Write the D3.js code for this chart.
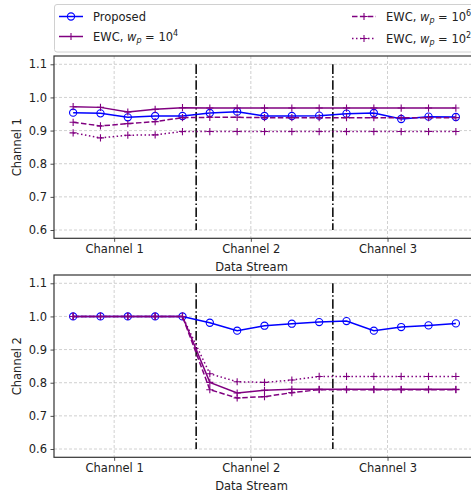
<!DOCTYPE html>
<html>
<head>
<meta charset="utf-8">
<script src="https://cdn.jsdelivr.net/npm/d3@7"></script>
<style>
  body { margin: 0; background: #fff; }
  text { font-family: "DejaVu Sans", sans-serif; fill: #222; }
</style>
</head>
<body>
<div id="chart"></div>
<script>
// data
var steps = d3.range(15);
var channelLabels = ["Channel 1", "Channel 2", "Channel 3"];
var channelTicks = [1.5, 6.5, 11.5];
var boundaries = [4.5, 9.5];
var yTicks = [0.6, 0.7, 0.8, 0.9, 1.0, 1.1];

var ch1Proposed = [0.954, 0.952, 0.940, 0.944, 0.944, 0.953, 0.957, 0.944, 0.944, 0.945, 0.951, 0.953, 0.935, 0.942, 0.941];
var ch1Ewc4 = [0.972, 0.970, 0.956, 0.964, 0.969, 0.968, 0.968, 0.968, 0.968, 0.968, 0.968, 0.968, 0.968, 0.968, 0.968];
var ch1Ewc6 = [0.925, 0.914, 0.921, 0.927, 0.939, 0.940, 0.940, 0.939, 0.939, 0.939, 0.939, 0.939, 0.939, 0.939, 0.939];
var ch1Ewc2 = [0.893, 0.878, 0.886, 0.887, 0.897, 0.897, 0.897, 0.897, 0.897, 0.897, 0.897, 0.897, 0.897, 0.897, 0.897];

var ch2Proposed = [1.0, 1.0, 1.0, 1.0, 1.0, 0.981, 0.957, 0.972, 0.978, 0.983, 0.986, 0.957, 0.968, 0.973, 0.979];
var ch2Ewc4 = [1.0, 1.0, 1.0, 1.0, 1.0, 0.801, 0.769, 0.777, 0.780, 0.780, 0.780, 0.780, 0.780, 0.780, 0.780];
var ch2Ewc6 = [1.0, 1.0, 1.0, 1.0, 1.0, 0.779, 0.754, 0.758, 0.770, 0.779, 0.779, 0.779, 0.779, 0.779, 0.779];
var ch2Ewc2 = [1.0, 1.0, 1.0, 1.0, 1.0, 0.827, 0.803, 0.801, 0.808, 0.819, 0.819, 0.819, 0.819, 0.819, 0.819];

var seriesStyle = [
    {name: "Proposed", color: "#0000ff", dash: null, marker: "circle"},
    {name: "EWC, ", exp: "4", color: "#800080", dash: null, marker: "plus"},
    {name: "EWC, ", exp: "6", color: "#800080", dash: "5.5,2.4", marker: "plus"},
    {name: "EWC, ", exp: "2", color: "#800080", dash: "1.5,2.5", marker: "plus"}
];

var svgWidth = 471;
var svgHeight = 493;
var fontSize = "11.5px";

var svg = d3.select("#chart")
    .append("svg")
    .attr("width", svgWidth)
    .attr("height", svgHeight);

var plotLeft = 54;
var plotRight = 475;

var xScale = d3.scaleLinear()
    .domain([-0.7, 14.7])
    .range([plotLeft, plotRight]);

function drawPanel(top, bottom, label, values) {
    var yScale = d3.scaleLinear()
        .domain([0.575, 1.125])
        .range([bottom, top]);

    var g = svg.append("g");

    // grid
    g.append("g")
        .selectAll("line")
        .data(yTicks)
        .enter()
        .append("line")
        .attr("x1", plotLeft)
        .attr("x2", plotRight)
        .attr("y1", d => yScale(d))
        .attr("y2", d => yScale(d))
        .attr("stroke", "#c4c4c4")
        .attr("stroke-width", 0.8)
        .attr("stroke-dasharray", "3,2");

    g.append("g")
        .selectAll("line")
        .data(channelTicks)
        .enter()
        .append("line")
        .attr("x1", d => xScale(d))
        .attr("x2", d => xScale(d))
        .attr("y1", top)
        .attr("y2", bottom)
        .attr("stroke", "#c4c4c4")
        .attr("stroke-width", 0.8)
        .attr("stroke-dasharray", "3,2");

    // axes
    var bottomAxis = d3.axisBottom(xScale)
        .tickValues(channelTicks)
        .tickFormat((d, i) => channelLabels[i])
        .tickSize(3.5)
        .tickPadding(3.5);

    var leftAxis = d3.axisLeft(yScale)
        .tickValues(yTicks)
        .tickFormat(d3.format(".1f"))
        .tickSize(3.5)
        .tickPadding(3.5);

    var xg = g.append("g")
        .attr("transform", `translate(0, ${bottom})`)
        .call(bottomAxis);
    var yg = g.append("g")
        .attr("transform", `translate(${plotLeft}, 0)`)
        .call(leftAxis);

    [xg, yg].forEach(function(a) {
        a.select(".domain").remove();
        a.selectAll(".tick line").attr("stroke", "#222").attr("stroke-width", 0.8);
        a.selectAll(".tick text")
            .style("font-family", "DejaVu Sans, sans-serif")
            .style("font-size", fontSize)
            .attr("fill", "#222");
    });

    // phase boundaries
    g.append("g")
        .selectAll("line")
        .data(boundaries)
        .enter()
        .append("line")
        .attr("x1", d => xScale(d))
        .attr("x2", d => xScale(d))
        .attr("y1", yScale(1.1))
        .attr("y2", yScale(0.6))
        .attr("stroke", "#000")
        .attr("stroke-width", 1.5)
        .attr("stroke-dasharray", "9.6,2.4,1.5,2.4");

    // series
    var line = d3.line()
        .x((d, i) => xScale(steps[i]))
        .y(d => yScale(d));

    values.forEach(function(vals, k) {
        var st = seriesStyle[k];
        var sg = g.append("g");
        sg.append("path")
            .datum(vals)
            .attr("d", line)
            .attr("fill", "none")
            .attr("stroke", st.color)
            .attr("stroke-width", 1.5)
            .attr("stroke-dasharray", st.dash);

        if (st.marker == "circle") {
            sg.selectAll("circle")
                .data(vals)
                .enter()
                .append("circle")
                .attr("cx", (d, i) => xScale(steps[i]))
                .attr("cy", d => yScale(d))
                .attr("r", 3.6)
                .attr("fill", "none")
                .attr("stroke", st.color)
                .attr("stroke-width", 1.1);
        } else {
            sg.selectAll("path.mk")
                .data(vals)
                .enter()
                .append("path")
                .attr("class", "mk")
                .attr("d", (d, i) => {
                    var cx = xScale(steps[i]), cy = yScale(d);
                    return `M${cx - 3.6},${cy}H${cx + 3.6}M${cx},${cy - 3.6}V${cy + 3.6}`;
                })
                .attr("stroke", st.color)
                .attr("stroke-width", 1.1);
        }
    });

    // frame
    g.append("rect")
        .attr("x", plotLeft)
        .attr("y", top)
        .attr("width", plotRight - plotLeft)
        .attr("height", bottom - top)
        .attr("fill", "none")
        .attr("stroke", "#333")
        .attr("stroke-width", 1.2);

    // labels
    g.append("text")
        .attr("transform", `translate(21, ${(top + bottom) / 2}) rotate(-90)`)
        .attr("text-anchor", "middle")
        .style("font-size", fontSize)
        .text(label);

    g.append("text")
        .attr("x", (plotLeft + plotRight) / 2 - 13)
        .attr("y", bottom + 33)
        .attr("text-anchor", "middle")
        .style("font-size", fontSize)
        .text("Data Stream");
}

drawPanel(56, 238.3, "Channel 1", [ch1Proposed, ch1Ewc4, ch1Ewc6, ch1Ewc2]);
drawPanel(275, 457.3, "Channel 2", [ch2Proposed, ch2Ewc4, ch2Ewc6, ch2Ewc2]);

// legend
var legend = svg.append("g");
legend.append("rect")
    .attr("x", 54.5)
    .attr("y", 4.5)
    .attr("width", 430)
    .attr("height", 47.5)
    .attr("rx", 2.5)
    .attr("fill", "#fff")
    .attr("stroke", "#d0d0d0")
    .attr("stroke-width", 1);

var legendPos = [[59, 16.5], [59, 36.5], [352, 16.5], [352, 38.5]];

seriesStyle.forEach(function(st, k) {
    var lx = legendPos[k][0], ly = legendPos[k][1];
    var item = legend.append("g");
    item.append("line")
        .attr("x1", lx)
        .attr("x2", lx + 24)
        .attr("y1", ly)
        .attr("y2", ly)
        .attr("stroke", st.color)
        .attr("stroke-width", 1.5)
        .attr("stroke-dasharray", st.dash);
    if (st.marker == "circle") {
        item.append("circle")
            .attr("cx", lx + 12)
            .attr("cy", ly)
            .attr("r", 3.6)
            .attr("fill", "none")
            .attr("stroke", st.color)
            .attr("stroke-width", 1.1);
    } else {
        item.append("path")
            .attr("d", `M${lx + 8.4},${ly}H${lx + 15.6}M${lx + 12},${ly - 3.6}V${ly + 3.6}`)
            .attr("stroke", st.color)
            .attr("stroke-width", 1.1);
    }
    var t = item.append("text")
        .attr("x", lx + 34)
        .attr("y", ly + 4)
        .style("font-size", fontSize);
    t.append("tspan").text(st.name);
    if (st.exp) {
        t.append("tspan").style("font-style", "italic").text("w");
        t.append("tspan").attr("dy", 2.5).style("font-size", "8px").style("font-style", "italic").text("p");
        t.append("tspan").attr("dy", -2.5).text(" = 10");
        t.append("tspan").attr("dy", -5).style("font-size", "8px").text(st.exp);
    }
});
</script>
</body>
</html>
